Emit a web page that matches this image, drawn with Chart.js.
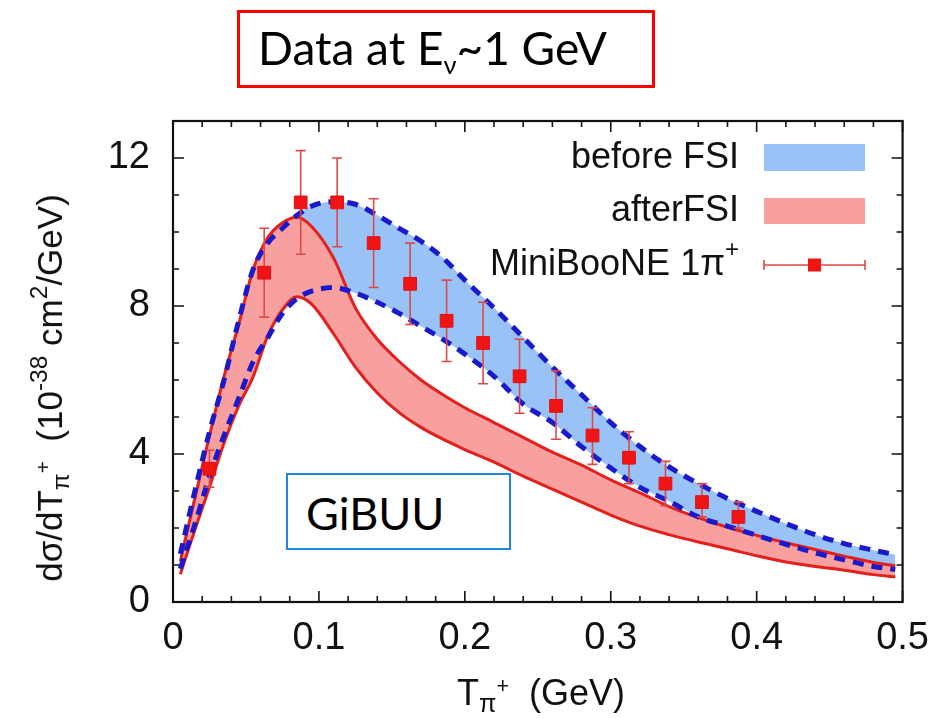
<!DOCTYPE html>
<html>
<head>
<meta charset="utf-8">
<script src="https://cdn.jsdelivr.net/npm/chart.js@4.4.1/dist/chart.umd.min.js"></script>
<style>
  html, body { margin: 0; padding: 0; background: #fff; }
  #wrap { position: relative; width: 943px; height: 718px; overflow: hidden; }
  #chart { position: absolute; left: 0; top: 0; }
  .note { position: absolute; box-sizing: border-box; font-family: Lato, "Open Sans", sans-serif; color: #000; white-space: nowrap; }
  #titleBox { left: 237px; top: 10px; width: 418px; height: 78px; border: 3px solid #f00; font-size: 46px; padding-left: 18px; line-height: 70px; }
  #titleBox sub { font-size: 0.55em; vertical-align: -0.35em; }
  #gibuuBox { left: 286px; top: 473px; width: 225px; height: 77px; border: 2px solid #1e88e5; font-size: 45px; padding-left: 18px; line-height: 76px; background: #fff; }
  .axisTitle { position: absolute; font-family: "Liberation Sans", Arial, sans-serif; color: #111; white-space: nowrap; text-align: center; }
  .axisTitle sub { font-size: 0.7em; vertical-align: -0.3em; }
  .axisTitle sub sup { font-size: 0.85em; vertical-align: 0.9em; }
  .axisTitle sup { font-size: 0.7em; vertical-align: 0.6em; }
  #xTitle { left: 173px; width: 736px; top: 664px; line-height: 44px; font-size: 36px; }
  #yTitle { left: -250px; width: 600px; top: 355px; line-height: 44px; font-size: 35px; transform: rotate(-90deg); }
</style>
</head>
<body>
<div id="wrap">
  <canvas id="chart" width="943" height="718"></canvas>
  <div class="note" id="titleBox">Data at E<sub>ν</sub>~1 GeV</div>
  <div class="note" id="gibuuBox">GiBUU</div>
  <div class="axisTitle" id="xTitle">T<sub>π<sup>+</sup></sub>&nbsp; (GeV)</div>
  <div class="axisTitle" id="yTitle">dσ/dT<sub>π<sup>+</sup></sub>&nbsp; (10<sup>-38</sup> cm<sup>2</sup>/GeV)</div>
</div>
<script>
// axis ticks
const xTickValues = [0, 0.1, 0.2, 0.3, 0.4, 0.5];
const xTickLabels = ['0', '0.1', '0.2', '0.3', '0.4', '0.5'];
const yTickValues = [0, 4, 8, 12];
const yTickLabels = ['0', '4', '8', '12'];

// MiniBooNE 1pi+ data
const tPi = [0.025, 0.0625, 0.0875, 0.1125, 0.1375, 0.1625, 0.1875, 0.2125, 0.2375, 0.2625, 0.2875, 0.3125, 0.3375, 0.3625, 0.3875];
const miniBooNE = [3.6, 8.9, 10.8, 10.8, 9.7, 8.6, 7.6, 7.0, 6.1, 5.3, 4.5, 3.9, 3.2, 2.7, 2.3];
const errHigh = [4.1, 10.1, 12.2, 12.0, 10.9, 9.7, 8.7, 8.1, 7.1, 6.25, 5.25, 4.6, 3.8, 3.2, 2.7];
const errLow = [3.1, 7.7, 9.4, 9.6, 8.5, 7.5, 6.5, 5.9, 5.1, 4.4, 3.72, 3.2, 2.6, 2.3, 2.0];

// GiBUU bands
const tCurve = [0.005, 0.015, 0.025, 0.035, 0.045, 0.055, 0.065, 0.075, 0.085, 0.095, 0.11, 0.125, 0.14, 0.155, 0.17, 0.185, 0.2, 0.22, 0.24, 0.26, 0.28, 0.3, 0.32, 0.34, 0.36, 0.38, 0.4, 0.42, 0.44, 0.46, 0.48, 0.495];
const beforeUpper = [1.3, 3.0, 4.6, 6.0, 7.6, 9.0, 9.7, 10.1, 10.45, 10.7, 10.82, 10.75, 10.45, 10.1, 9.75, 9.3, 8.7, 7.95, 7.15, 6.35, 5.6, 4.85, 4.2, 3.65, 3.2, 2.8, 2.45, 2.12, 1.82, 1.58, 1.4, 1.28];
const beforeLower = [0.9, 2.1, 3.4, 4.5, 5.5, 6.5, 7.15, 7.8, 8.2, 8.4, 8.5, 8.35, 8.1, 7.8, 7.45, 7.1, 6.7, 6.1, 5.35, 4.85, 4.2, 3.62, 3.1, 2.72, 2.3, 2.05, 1.8, 1.56, 1.33, 1.14, 0.96, 0.88];
const afterUpper = [1.1, 2.8, 4.5, 6.1, 7.5, 9.0, 9.85, 10.25, 10.4, 10.15, 9.3, 7.95, 7.1, 6.5, 6.0, 5.6, 5.25, 4.85, 4.45, 4.05, 3.7, 3.3, 2.95, 2.58, 2.28, 2.02, 1.8, 1.6, 1.42, 1.24, 1.07, 0.98];
const afterLower = [0.75, 1.95, 3.1, 4.3, 5.3, 6.1, 7.2, 7.9, 8.25, 8.05, 7.25, 6.35, 5.65, 5.12, 4.72, 4.4, 4.12, 3.78, 3.4, 3.05, 2.7, 2.35, 2.05, 1.82, 1.62, 1.44, 1.25, 1.08, 0.96, 0.86, 0.74, 0.68];

const blueFill = '#99c2f7';
const redFill = '#f8a0a0';
const blueLine = '#1a1acc';
const redLine = '#e3201c';
const axisFont = '"Liberation Sans", Arial, sans-serif';

const pts = (xs, ys) => xs.map((x, i) => ({ x: x, y: ys[i] }));

const curve = (ys, extra) => Object.assign({
    data: pts(tCurve, ys),
    pointRadius: 0,
    fill: false,
    cubicInterpolationMode: 'monotone'
}, extra);

// error bars under the MiniBooNE squares
const errorBars = {
    id: 'errorBars',
    beforeDatasetDraw(chart, args) {
        if (args.index !== 0) return;
        const { ctx, scales: { x, y } } = chart;
        ctx.save();
        ctx.strokeStyle = '#e04848';
        ctx.lineWidth = 1.6;
        ctx.beginPath();
        tPi.forEach((t, i) => {
            const px = x.getPixelForValue(t);
            const top = y.getPixelForValue(errHigh[i]);
            const bot = y.getPixelForValue(errLow[i]);
            ctx.moveTo(px, top); ctx.lineTo(px, bot);
            ctx.moveTo(px - 5, top); ctx.lineTo(px + 5, top);
            ctx.moveTo(px - 5, bot); ctx.lineTo(px + 5, bot);
        });
        ctx.stroke();
        ctx.restore();
    }
};

// gnuplot style frame with inward ticks on all sides
const frameTicks = {
    id: 'frameTicks',
    afterDatasetsDraw(chart) {
        const { ctx, chartArea: a, scales: { x, y } } = chart;
        ctx.save();
        ctx.strokeStyle = '#111';
        ctx.lineWidth = 1.6;
        ctx.beginPath();
        for (let i = 0; i <= 25; i++) {
            const px = x.getPixelForValue(i * 0.02);
            const len = i % 5 === 0 ? 11 : 6;
            ctx.moveTo(px, a.bottom); ctx.lineTo(px, a.bottom - len);
            ctx.moveTo(px, a.top); ctx.lineTo(px, a.top + len);
        }
        for (let v = 0; v <= 13; v++) {
            const py = y.getPixelForValue(v);
            const len = v % 4 === 0 ? 11 : 6;
            ctx.moveTo(a.left, py); ctx.lineTo(a.left + len, py);
            ctx.moveTo(a.right, py); ctx.lineTo(a.right - len, py);
        }
        ctx.stroke();
        ctx.lineWidth = 2.2;
        ctx.strokeRect(a.left, a.top, a.right - a.left, a.bottom - a.top);
        ctx.restore();
    }
};

// key in the top right corner
const keyBox = {
    id: 'keyBox',
    afterDraw(chart) {
        const ctx = chart.ctx;
        const tx = 739, sx = 764, sw = 101;
        ctx.save();
        ctx.font = '36px ' + axisFont;
        ctx.fillStyle = '#111';
        ctx.textAlign = 'right';
        ctx.textBaseline = 'middle';
        ctx.fillText('before FSI', tx, 158);
        ctx.fillText('afterFSI', tx, 211);
        ctx.font = '24px ' + axisFont;
        const plusW = ctx.measureText('+').width;
        ctx.fillText('+', tx, 250);
        ctx.font = '36px ' + axisFont;
        ctx.fillText('MiniBooNE 1π', tx - plusW, 265);

        ctx.fillStyle = blueFill;
        ctx.fillRect(sx, 144, sw, 27);
        ctx.fillStyle = redFill;
        ctx.fillRect(sx, 198, sw, 26);

        ctx.strokeStyle = '#e04848';
        ctx.lineWidth = 1.6;
        ctx.beginPath();
        ctx.moveTo(sx, 265); ctx.lineTo(sx + sw, 265);
        ctx.moveTo(sx, 260); ctx.lineTo(sx, 270);
        ctx.moveTo(sx + sw, 260); ctx.lineTo(sx + sw, 270);
        ctx.stroke();
        ctx.fillStyle = '#f01414';
        ctx.fillRect(sx + sw / 2 - 6.5, 258.5, 13, 13);
        ctx.restore();
    }
};

const ctx = document.getElementById('chart').getContext('2d');

const chart = new Chart(ctx, {
    type: 'line',
    data: {
        datasets: [
            {
                label: 'MiniBooNE 1π+',
                data: pts(tPi, miniBooNE),
                showLine: false,
                pointStyle: 'rect',
                pointRadius: 9,
                pointBorderWidth: 1,
                pointBackgroundColor: '#f01414',
                pointBorderColor: '#e01010'
            },
            curve(beforeUpper, { label: 'before FSI upper', borderColor: blueLine, borderWidth: 5, borderDash: [11, 8] }),
            curve(beforeLower, { label: 'before FSI lower', borderColor: blueLine, borderWidth: 5, borderDash: [11, 8] }),
            curve(afterUpper, { label: 'afterFSI upper', borderColor: redLine, borderWidth: 3 }),
            curve(afterLower, { label: 'afterFSI lower', borderColor: redLine, borderWidth: 3 }),
            curve(afterUpper, { label: 'afterFSI band', borderColor: 'transparent', borderWidth: 0, fill: '+1', backgroundColor: redFill }),
            curve(afterLower, { label: 'afterFSI base', borderColor: 'transparent', borderWidth: 0 }),
            curve(beforeUpper, { label: 'before FSI band', borderColor: 'transparent', borderWidth: 0, fill: '+1', backgroundColor: blueFill }),
            curve(beforeLower, { label: 'before FSI base', borderColor: 'transparent', borderWidth: 0 })
        ]
    },
    options: {
        responsive: false,
        animation: false,
        devicePixelRatio: 1,
        layout: { padding: { top: 121, right: 34, left: 0, bottom: 0 } },
        plugins: {
            legend: { display: false },
            tooltip: { enabled: false },
            title: { display: false }
        },
        scales: {
            x: {
                type: 'linear',
                min: 0,
                max: 0.5,
                grid: { display: false, drawTicks: false },
                border: { display: false },
                ticks: {
                    font: { family: axisFont, size: 38 },
                    color: '#111',
                    padding: 14,
                    maxRotation: 0,
                    autoSkip: false,
                    callback: (v, i) => xTickLabels[i]
                },
                afterBuildTicks: s => { s.ticks = xTickValues.map(v => ({ value: v })); },
                afterFit: s => { s.height = 116; }
            },
            y: {
                type: 'linear',
                min: 0,
                max: 13,
                grid: { display: false, drawTicks: false },
                border: { display: false },
                ticks: {
                    font: { family: axisFont, size: 38 },
                    color: '#111',
                    padding: 23,
                    autoSkip: false,
                    callback: (v, i) => yTickLabels[i]
                },
                afterBuildTicks: s => { s.ticks = yTickValues.map(v => ({ value: v })); },
                afterFit: s => { s.width = 173; }
            }
        }
    },
    plugins: [errorBars, frameTicks, keyBox]
});
</script>
</body>
</html>
